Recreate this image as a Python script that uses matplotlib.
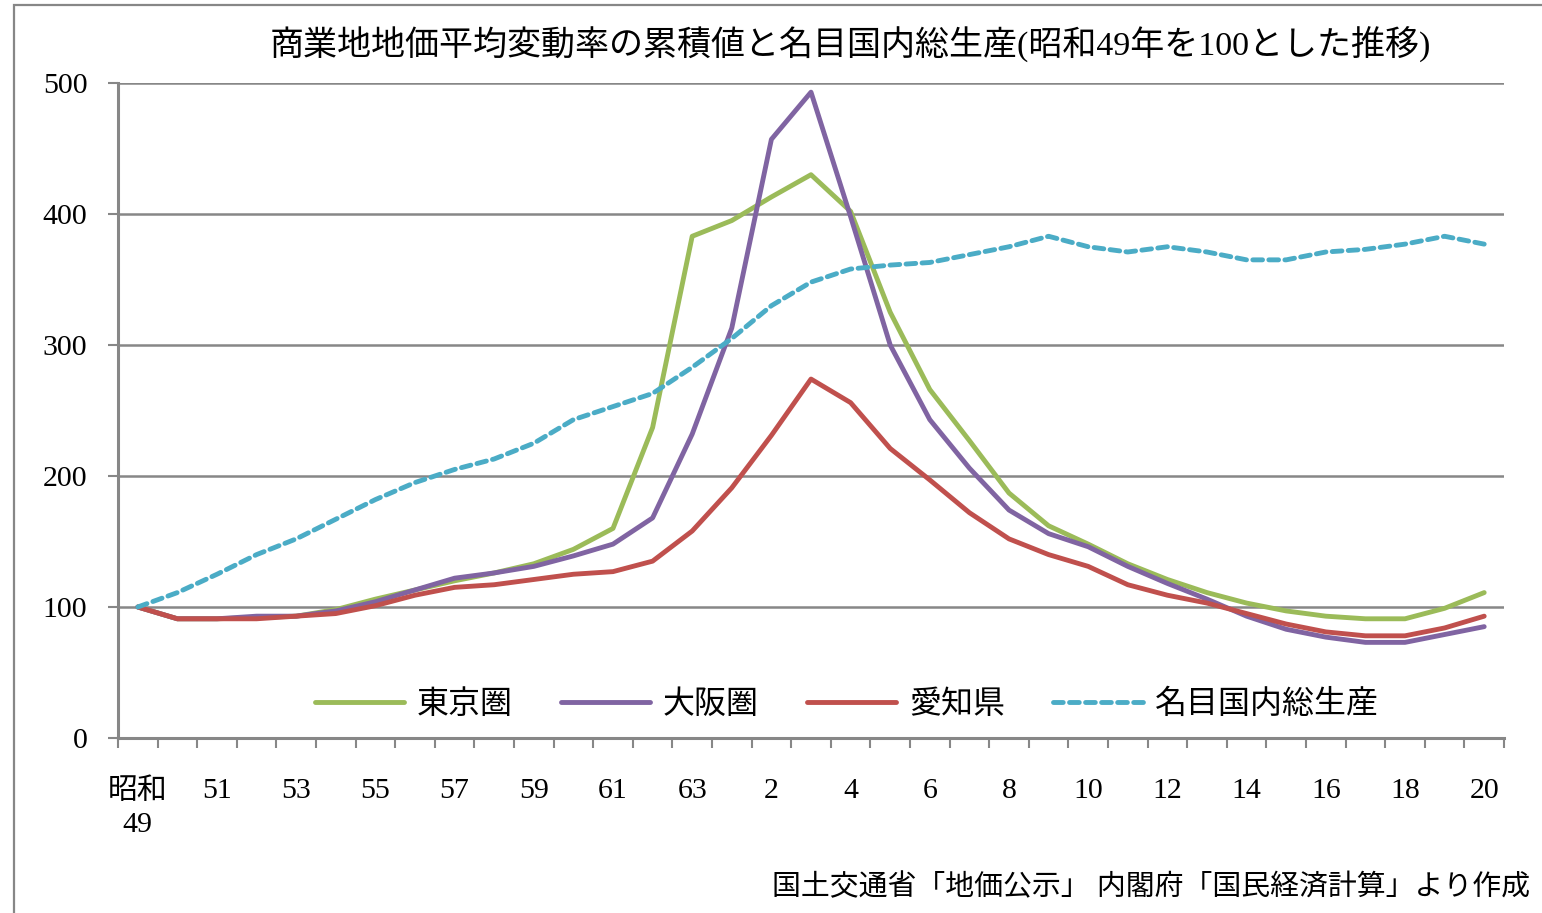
import matplotlib
matplotlib.use("Agg")
import matplotlib.pyplot as plt
from matplotlib.patches import Rectangle
from matplotlib.ticker import FixedLocator, MultipleLocator

plt.rcParams['font.family'] = ['Liberation Serif', 'Noto Sans CJK JP', 'DejaVu Sans']

# 昭和49年〜平成20年 (35 years)
years = list(range(35))
tick_labels = ['昭和\n49', '51', '53', '55', '57', '59', '61', '63',
               '2', '4', '6', '8', '10', '12', '14', '16', '18', '20']

tokyo = [100, 91, 91, 92, 93, 98, 106, 113, 120, 126, 133, 144, 160, 237, 383,
         395, 413, 430, 402, 325, 266, 227, 187, 162, 148, 133, 121, 111, 103,
         97, 93, 91, 91, 99, 111]
osaka = [100, 91, 91, 93, 93, 97, 104, 113, 122, 126, 131, 139, 148, 168, 232,
         313, 457, 493, 398, 300, 243, 206, 174, 156, 146, 131, 118, 106, 93,
         83, 77, 73, 73, 79, 85]
aichi = [100, 91, 91, 91, 93, 95, 101, 109, 115, 117, 121, 125, 127, 135, 158,
         191, 231, 274, 256, 221, 197, 172, 152, 140, 131, 117, 109, 103, 95,
         87, 81, 78, 78, 84, 93]
gdp = [100, 111, 125, 140, 152, 167, 182, 195, 205, 213, 225, 243, 253, 263, 283,
       305, 330, 348, 358, 361, 363, 369, 375, 383, 375, 371, 375, 371, 365,
       365, 371, 373, 377, 383, 377]

series_names = ['東京圏', '大阪圏', '愛知県', '名目国内総生産']
colors = ['#9BBB59', '#8064A2', '#C0504D', '#4BACC6']
grid_color = '#878787'

fig = plt.figure(figsize=(15.42, 9.13), dpi=100)
W, H = 1542, 913
ax = fig.add_axes([118 / W, 1 - 738 / H, (1504 - 118) / W, (738 - 83) / H])

# outer chart frame
fig.patches.append(Rectangle((14 / W, -0.1), 1.2, 1 - 5 / H + 0.1,
                             transform=fig.transFigure, fill=False,
                             edgecolor=grid_color, linewidth=1.6, zorder=0))

for vals, name, c in zip([tokyo, osaka, aichi], series_names[:3], colors[:3]):
    ax.plot(years, vals, color=c, lw=3.5, label=name, solid_capstyle='round',
            solid_joinstyle='round', zorder=3)
ax.plot(years, gdp, color=colors[3], lw=3.5, label=series_names[3],
        dashes=(2.0, 1.3), dash_capstyle='round', zorder=4)

ax.set_xlim(-0.5, 34.5)
ax.set_ylim(0, 500)
ax.yaxis.set_major_locator(MultipleLocator(100))
ax.grid(axis='y', color=grid_color, lw=1.8, zorder=1)
ax.set_axisbelow(True)

ax.set_xticks(years[::2])
ax.set_xticklabels(tick_labels, fontsize=21.5, linespacing=1.35)
ax.xaxis.set_minor_locator(FixedLocator([i - 0.5 for i in range(36)]))
ax.tick_params(axis='x', which='major', length=0, pad=29)
ax.tick_params(axis='x', which='minor', length=7, width=1.5, color=grid_color,
               direction='out')
ax.tick_params(axis='y', length=7, width=1.5, color=grid_color, labelsize=21.5,
               pad=15)

for s in ['top', 'right']:
    ax.spines[s].set_visible(False)
for s in ['left', 'bottom']:
    ax.spines[s].set_color(grid_color)
    ax.spines[s].set_linewidth(2.2)

ax.legend(loc='center', bbox_to_anchor=(0.526, 0.05), ncol=4, frameon=False,
          fontsize=23, handlelength=2.8, handletextpad=0.4,
          columnspacing=1.5)

fig.text(850 / W, 1 - 45 / H,
         '商業地地価平均変動率の累積値と名目国内総生産(昭和49年を100とした推移)',
         ha='center', va='center', fontsize=24.5)
fig.text(1530 / W, 1 - 887 / H,
         '国土交通省「地価公示」 内閣府「国民経済計算」より作成',
         ha='right', va='center', fontsize=20.8)

fig.savefig('out.png', dpi=100)
